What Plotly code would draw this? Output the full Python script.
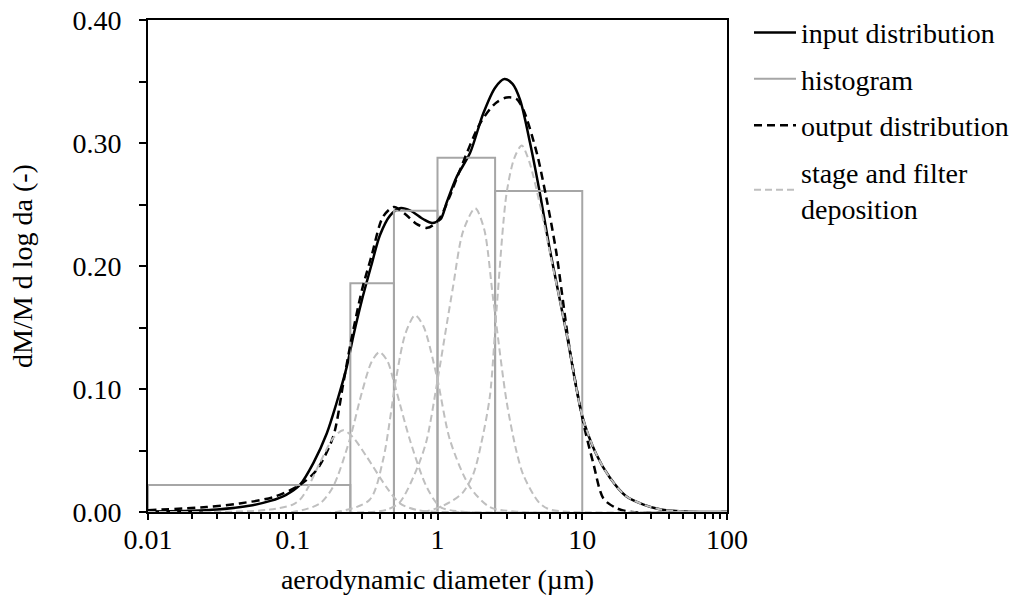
import plotly.graph_objects as go

# ---------------- data ----------------
# histogram bins (aerodynamic diameter, µm) and heights
bin_edges = [0.01, 0.25, 0.5, 1.0, 2.5, 10.0]
bin_heights = [0.022, 0.186, 0.245, 0.288, 0.261]

# input distribution (solid black)
input_x = [0.01, 0.02, 0.03, 0.05, 0.07, 0.09, 0.112, 0.139, 0.172, 0.2, 0.236, 0.262,
           0.3, 0.35, 0.4, 0.47, 0.55, 0.65, 0.8, 0.92, 1.05, 1.16, 1.35, 1.68, 2.07,
           2.5, 2.9, 3.3, 3.72, 4.36, 5.1, 6.0, 7.8, 10.0, 12.5, 15.5, 20, 26.5, 35, 50, 100]
input_y = [0.0005, 0.001, 0.002, 0.005, 0.009, 0.014, 0.022, 0.040, 0.064, 0.088, 0.118, 0.143,
           0.172, 0.201, 0.225, 0.241, 0.247, 0.245, 0.238, 0.235, 0.238, 0.252, 0.272, 0.292, 0.324,
           0.345, 0.352, 0.348, 0.335, 0.300, 0.259, 0.212, 0.145, 0.078, 0.047, 0.028, 0.013, 0.006, 0.002, 0.0005, 0.0]

# output distribution (dashed black)
output_x = [0.01, 0.0254, 0.043, 0.073, 0.112, 0.146, 0.19, 0.223, 0.25, 0.3, 0.35, 0.42,
            0.5, 0.6, 0.72, 0.85, 0.95, 1.05, 1.2, 1.43, 1.97, 2.5, 3.0, 3.5, 3.92, 4.85,
            5.68, 6.6, 8.2, 10.2, 11.9, 14, 17.3, 22, 100]
output_y = [0.0015, 0.004, 0.007, 0.012, 0.022, 0.034, 0.061, 0.104, 0.136, 0.180, 0.208, 0.240,
            0.248, 0.242, 0.234, 0.231, 0.234, 0.240, 0.255, 0.278, 0.316, 0.332, 0.337, 0.336, 0.327, 0.292,
            0.254, 0.212, 0.132, 0.072, 0.040, 0.011, 0.003, 0.0, 0.0]

# stage and filter deposition curves (light grey dashed)
stage1_x = [0.01, 0.04, 0.07, 0.1, 0.112, 0.125, 0.154, 0.19, 0.223, 0.26, 0.324, 0.445, 0.55, 0.72, 1.0, 100]
stage1_y = [0.0, 0.0003, 0.002, 0.006, 0.010, 0.018, 0.040, 0.060, 0.0665, 0.061, 0.045, 0.020, 0.007, 0.0016, 0.0002, 0.0]

stage2_x = [0.01, 0.1, 0.154, 0.19, 0.247, 0.3, 0.35, 0.396, 0.45, 0.494, 0.645, 0.84, 1.05, 1.5, 100]
stage2_y = [0.0, 0.0, 0.007, 0.0206, 0.0585, 0.097, 0.122, 0.130, 0.123, 0.108, 0.0585, 0.0206, 0.004, 0.0003, 0.0]

stage3_x = [0.01, 0.2, 0.34, 0.42, 0.52, 0.6, 0.70, 0.8, 0.99, 1.22, 1.67, 2.3, 3.5, 100]
stage3_y = [0.0, 0.0, 0.010, 0.042, 0.110, 0.145, 0.160, 0.151, 0.110, 0.0585, 0.0206, 0.004, 0.0003, 0.0]

stage4_x = [0.01, 0.35, 0.45, 0.55, 0.72, 0.84, 1.0, 1.16, 1.28, 1.5, 1.82, 2.1, 2.43, 3.0, 3.5, 3.92, 5.0, 6.0, 100]
stage4_y = [0.0, 0.0, 0.002, 0.008, 0.035, 0.058, 0.107, 0.153, 0.183, 0.228, 0.247, 0.230, 0.172, 0.090, 0.050, 0.030, 0.008, 0.002, 0.0]

stage5_x = [0.01, 0.8, 1.22, 1.5, 1.77, 2.0, 2.3, 2.56, 3.0, 3.4, 3.82, 4.3, 5.1, 6.0, 7.8, 10, 12.5, 15.5, 20, 26.5, 35, 50, 100]
stage5_y = [0.0, 0.0, 0.008, 0.016, 0.031, 0.055, 0.094, 0.165, 0.259, 0.288, 0.298, 0.285, 0.250, 0.210, 0.145, 0.078, 0.047, 0.028, 0.013, 0.006, 0.002, 0.0005, 0.0]

x_tick_vals = [0.01, 0.1, 1, 10, 100]
x_tick_text = ["0.01", "0.1", "1", "10", "100"]
y_tick_vals = [0.0, 0.1, 0.2, 0.3, 0.4]
y_tick_text = ["0.00", "0.10", "0.20", "0.30", "0.40"]

# ---------------- figure ----------------
FONT = "Liberation Serif"
FS = 28
fig = go.Figure()

# histogram outline built from bin edges / heights
hx, hy = [], []
for i, h in enumerate(bin_heights):
    hx += [bin_edges[i], bin_edges[i], bin_edges[i + 1], bin_edges[i + 1], None]
    hy += [0, h, h, 0, None]

stage_color = "#BFBFBF"
stage_dash = "7px,4px"
stages = [(stage1_x, stage1_y), (stage2_x, stage2_y), (stage3_x, stage3_y),
          (stage4_x, stage4_y), (stage5_x, stage5_y)]

fig.add_trace(go.Scatter(x=input_x, y=input_y, mode="lines", name="input distribution",
                         legendgroup="a",
                         line=dict(color="black", width=2.5, shape="spline", smoothing=0.8)))
fig.add_trace(go.Scatter(x=hx, y=hy, mode="lines", name="histogram", legendgroup="b",
                         line=dict(color="#A6A6A6", width=2)))
fig.add_trace(go.Scatter(x=output_x, y=output_y, mode="lines", name="output distribution",
                         legendgroup="c",
                         line=dict(color="black", width=2.5, dash="8px,5px", shape="spline", smoothing=0.8)))
for k, (sx, sy) in enumerate(stages):
    fig.add_trace(go.Scatter(x=sx, y=sy, mode="lines",
                             name="stage and filter<br>deposition",
                             showlegend=(k == 0), legendgroup="d",
                             line=dict(color=stage_color, width=2, dash=stage_dash,
                                       shape="spline", smoothing=0.8)))

minor_x = [m * 10.0 ** e for e in range(-2, 2) for m in range(2, 10)]
minor_y = [0.05, 0.15, 0.25, 0.35]

fig.update_layout(
    width=1022, height=598,
    margin=dict(l=148, r=295, t=20, b=86, autoexpand=False),
    paper_bgcolor="white", plot_bgcolor="white",
    font=dict(family=FONT, size=FS, color="black"),
    legend=dict(x=1.038, y=1.025, xanchor="left", yanchor="top",
                font=dict(family=FONT, size=FS, color="black"),
                bgcolor="rgba(0,0,0,0)", itemwidth=42, tracegroupgap=7,
                traceorder="grouped"),
    showlegend=True,
)

fig.update_xaxes(
    type="log", range=[-2, 2], automargin=False,
    tickmode="array", tickvals=x_tick_vals, ticktext=x_tick_text,
    ticks="outside", ticklen=6, tickwidth=1.5, tickcolor="black",
    minor=dict(tickmode="array", tickvals=minor_x, ticks="outside", ticklen=5,
               tickwidth=1.5, tickcolor="black", showgrid=False),
    showline=True, linecolor="black", linewidth=2, mirror=True,
    showgrid=False, zeroline=False, layer="below traces",
    title=dict(text="aerodynamic diameter (µm)", font=dict(family=FONT, size=FS), standoff=16),
    tickfont=dict(family=FONT, size=FS),
    ticklabelstandoff=-5, ticklabeloverflow="allow",
)
fig.update_yaxes(
    range=[0, 0.40], automargin=False,
    tickmode="array", tickvals=y_tick_vals, ticktext=y_tick_text,
    ticks="outside", ticklen=7, tickwidth=1.5, tickcolor="black",
    minor=dict(tickmode="array", tickvals=minor_y, ticks="outside", ticklen=7,
               tickwidth=1.5, tickcolor="black", showgrid=False),
    showline=True, linecolor="black", linewidth=2, mirror=True,
    showgrid=False, zeroline=False, layer="below traces",
    title=dict(text="dM/M d log da (-)", font=dict(family=FONT, size=FS), standoff=32),
    tickfont=dict(family=FONT, size=FS),
    ticklabelstandoff=12, ticklabeloverflow="allow",
)

# remove the default 8px page margin so the figure fills the window exactly
fig.write_html("out.html", config={"displayModeBar": False},
               post_script="document.body.style.margin='0';")
